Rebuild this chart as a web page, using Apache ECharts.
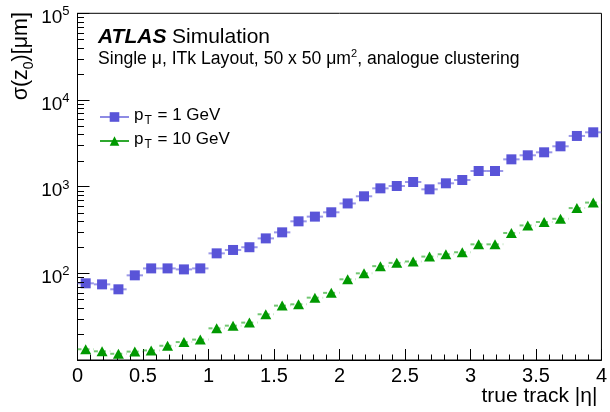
<!DOCTYPE html>
<html><head><meta charset="utf-8">
<script src="https://cdn.jsdelivr.net/npm/echarts@6/dist/echarts.min.js"></script>
<style>html,body{margin:0;padding:0;background:#fff}#c{width:610px;height:412px}</style>
</head><body><div id="c"></div>
<script>
// ---- data ----
const etaCenters = [0.0625, 0.1875, 0.3125, 0.4375, 0.5625, 0.6875, 0.8125, 0.9375,
  1.0625, 1.1875, 1.3125, 1.4375, 1.5625, 1.6875, 1.8125, 1.9375,
  2.0625, 2.1875, 2.3125, 2.4375, 2.5625, 2.6875, 2.8125, 2.9375,
  3.0625, 3.1875, 3.3125, 3.4375, 3.5625, 3.6875, 3.8125, 3.9375];
const etaHalfWidth = 0.0625;
const sigmaPt1 = [76.7, 74.6, 65.4, 94.8, 114, 114, 111, 114,
  170, 186, 200, 253, 297, 398, 451, 506,
  640, 774, 956, 1018, 1132, 931, 1093, 1193,
  1516, 1516, 2066, 2300, 2490, 2920, 3845, 4236];
const sigmaPt10 = [13.3, 12.6, 11.8, 12.5, 12.9, 14.6, 16.1, 17.2,
  23.2, 24.9, 27.0, 33.7, 42.4, 43.9, 52.4, 59.5,
  85.3, 100, 121, 132, 137, 156, 166, 175,
  216, 216, 292, 357, 391, 426, 566, 655];
const seriesNames = ['1 GeV', '10 GeV'];
const yMinorFactors = [2, 3, 4, 5, 6, 7, 8, 9];
const yMinorDecades = [10, 100, 1000, 10000];

const FONT = 'Liberation Sans, Arial, Helvetica, sans-serif';
const BLUE = '#5954d8';
const GREEN = '#009900';

const yMinorTicks = [];
yMinorDecades.forEach(d => yMinorFactors.forEach(f => yMinorTicks.push([0, d * f])));

const pts1 = etaCenters.map((x, i) => [x, sigmaPt1[i]]);
const pts10 = etaCenters.map((x, i) => [x, sigmaPt10[i]]);

function errBar(color, dash) {
  return function (params, api) {
    const x = api.value(0), y = api.value(1);
    const a = api.coord([x - etaHalfWidth, y]);
    const b = api.coord([x + etaHalfWidth, y]);
    return { type: 'line', shape: { x1: a[0], y1: a[1], x2: b[0], y2: b[1] },
      style: { stroke: color, lineWidth: 2, lineDash: dash } };
  };
}

const chart = echarts.init(document.getElementById('c'), null, { renderer: 'canvas' });
chart.setOption({
  animation: false,
  backgroundColor: '#fff',
  grid: { left: 77.5, right: 2.5, top: 13.3, bottom: 52, show: true, borderColor: '#000', borderWidth: 1, backgroundColor: 'transparent' },
  xAxis: {
    type: 'value', min: 0, max: 4, interval: 0.5,
    axisLine: { show: true, lineStyle: { color: '#000', width: 1 } },
    axisTick: { show: true, inside: true, length: 11, lineStyle: { color: '#000' } },
    minorTick: { show: true, splitNumber: 5, length: 5.5, lineStyle: { color: '#000' } },
    splitLine: { show: false },
    axisLabel: { fontFamily: FONT, fontSize: 20, color: '#000', margin: 6, showMinLabel: true, showMaxLabel: true, hideOverlap: false },
    name: 'true track |η|', nameLocation: 'end', nameGap: 0,
    nameTextStyle: { fontFamily: FONT, fontSize: 21, color: '#000', align: 'right', verticalAlign: 'top', padding: [26, 4, 0, 0] }
  },
  yAxis: {
    type: 'log', logBase: 10, min: 10, max: 100000,
    axisLine: { show: true, lineStyle: { color: '#000', width: 1 } },
    axisTick: { show: true, inside: true, length: 12, lineStyle: { color: '#000', width: 1 } },
    splitLine: { show: false },
    axisLabel: {
      fontFamily: FONT, color: '#000', margin: 8, padding: [6, 0, 0, 0],
      formatter: v => { const e = Math.round(Math.log10(v)); return e === 1 ? '' : '{b|10}{sup|' + e + '}'; },
      rich: {
        b: { fontFamily: FONT, fontSize: 19, color: '#000', verticalAlign: 'bottom', lineHeight: 22 },
        sup: { fontFamily: FONT, fontSize: 13, color: '#000', verticalAlign: 'top', lineHeight: 22 }
      }
    }
  },
  legend: {
    orient: 'vertical', left: 99, top: 107, padding: 0, itemWidth: 29, itemHeight: 12, itemGap: 4,
    selectedMode: false,
    data: [
      { name: seriesNames[0], lineStyle: { color: '#8e8be4', width: 2, opacity: 1 } },
      { name: seriesNames[1], lineStyle: { color: '#2fa82f', width: 2, opacity: 1, type: 'solid' } }
    ],
    formatter: n => '{m|p}{sub|T}{m| = ' + n + '}',
    textStyle: {
      fontFamily: FONT, fontSize: 17, color: '#000',
      rich: {
        m: { fontFamily: FONT, fontSize: 17, color: '#000', lineHeight: 20, verticalAlign: 'top' },
        sub: { fontFamily: FONT, fontSize: 12, color: '#000', lineHeight: 20, verticalAlign: 'bottom', padding: [0, 1, 0, 1] }
      }
    }
  },
  graphic: [
    { type: 'text', x: 98, y: 37, style: { text: 'ATLAS', font: 'italic bold 21px ' + FONT, fill: '#000', verticalAlign: 'middle' } },
    { type: 'text', x: 172, y: 37, style: { text: 'Simulation', font: '21px ' + FONT, fill: '#000', verticalAlign: 'middle' } },
    { type: 'text', x: 98, y: 58, style: {
        text: '{t|Single μ, ITk Layout, 50 x 50 μm}{s|2}{t|, analogue clustering}',
        verticalAlign: 'middle',
        rich: {
          t: { fontFamily: FONT, fontSize: 17.6, fill: '#000', lineHeight: 20, verticalAlign: 'bottom' },
          s: { fontFamily: FONT, fontSize: 11, fill: '#000', lineHeight: 20, verticalAlign: 'top' }
        } } },
    { type: 'text', x: 23, y: 12, rotation: Math.PI / 2, style: {
        text: '{t|σ(z}{s|0}{t|)[μm]}', align: 'right', verticalAlign: 'middle',
        rich: {
          t: { fontFamily: FONT, fontSize: 21.5, fill: '#000', lineHeight: 26, verticalAlign: 'top' },
          s: { fontFamily: FONT, fontSize: 14, fill: '#000', lineHeight: 26, verticalAlign: 'bottom' }
        } } }
  ],
  series: [
    { type: 'custom', name: 'yminor', data: yMinorTicks, silent: true, z: 10, clip: false,
      encode: { x: 0, y: 1 },
      renderItem: (params, api) => {
        const p = api.coord([api.value(0), api.value(1)]);
        const x0 = Math.round(p[0]);
        const y0 = Math.round(p[1]) + 0.5;
        return { type: 'line', shape: { x1: x0, y1: y0, x2: x0 + 6, y2: y0 }, style: { stroke: '#000', lineWidth: 1 } };
      } },
    { type: 'custom', name: 'err1', data: pts1, silent: true, z: 2, encode: { x: 0, y: 1 },
      renderItem: errBar('rgba(89,84,216,0.6)', null) },
    { type: 'custom', name: 'err10', data: pts10, silent: true, z: 2, encode: { x: 0, y: 1 },
      renderItem: errBar('rgba(0,153,0,0.55)', [4, 4]) },
    { type: 'line', name: seriesNames[0], data: pts1, z: 3,
      symbol: 'rect', symbolSize: 10, showSymbol: true,
      itemStyle: { color: BLUE }, lineStyle: { color: BLUE, opacity: 0 } },
    { type: 'line', name: seriesNames[1], data: pts10, z: 3,
      symbol: 'triangle', symbolSize: [11, 10], showSymbol: true,
      itemStyle: { color: GREEN }, lineStyle: { color: GREEN, opacity: 0 } }
  ]
});
</script></body></html>
